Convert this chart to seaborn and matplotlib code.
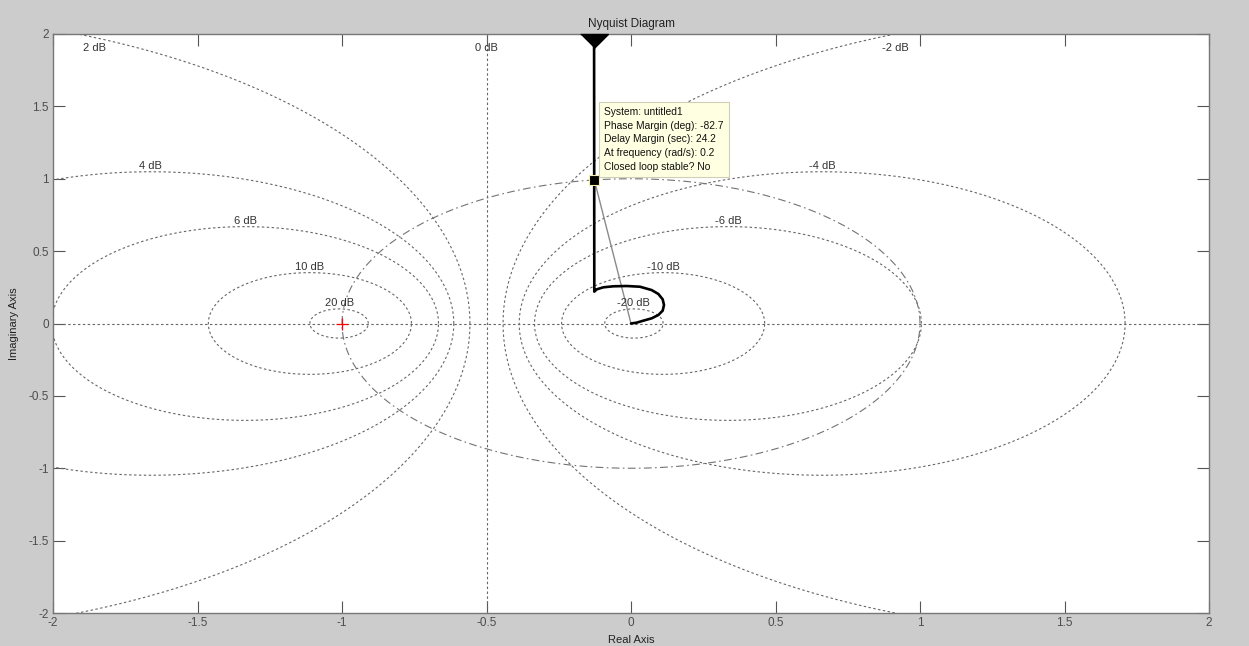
import numpy as np
import matplotlib
matplotlib.use('Agg')
import matplotlib.pyplot as plt
import seaborn as sns

# constant closed-loop magnitude circles (dB)
db_levels = [20, 10, 6, 4, 2, 0, -2, -4, -6, -10, -20]

# open-loop Nyquist curve
nyq_re = [0.0, 0.0196, 0.0427, 0.0715, 0.0946, 0.1096, 0.1142, 0.1096, 0.0946,
          0.0715, 0.0311, -0.015, -0.0612, -0.0957, -0.1188, -0.127, -0.128]
nyq_im = [0.0, 0.0058, 0.0196, 0.0357, 0.0587, 0.0887, 0.128, 0.167, 0.204,
          0.231, 0.254, 0.259, 0.257, 0.25, 0.236, 0.22, 2.6]

# phase margin point and datatip
pm_re = -0.127
pm_im = 0.992
tip_lines = ["System: untitled1",
             "Phase Margin (deg): -82.7",
             "Delay Margin (sec): 24.2",
             "At frequency (rad/s): 0.2",
             "Closed loop stable? No"]

ticks = [-2, -1.5, -1, -0.5, 0, 0.5, 1, 1.5, 2]

sns.set_style("white")
plt.rcParams['font.family'] = ['Liberation Sans', 'DejaVu Sans']
plt.rcParams['axes.unicode_minus'] = False

fig = plt.figure(figsize=(12.49, 6.46), dpi=100, facecolor='#cccccc')
ax = fig.add_axes([53 / 1249, 1 - 613 / 646, 1156 / 1249, 579 / 646])
ax.set_facecolor('white')

grid_kw = dict(color='#666666', lw=0.8, dashes=(2.2, 2.2))
t = np.linspace(0, 2 * np.pi, 721)
for db in db_levels:
    if db == 0:
        ax.axvline(-0.5, **grid_kw)
        lx, ly, va = -0.5, 1.94, 'top'
    else:
        m = 10 ** (db / 20)
        c = -m ** 2 / (m ** 2 - 1)
        r = abs(m / (m ** 2 - 1))
        ax.plot(c + r * np.cos(t), r * np.sin(t), **grid_kw)
        if r < 2:
            lx, ly, va = c, r + 0.005, 'bottom'
        else:
            side = -1 if c > 0 else 1
            lx = c + side * np.sqrt(r ** 2 - 4)
            lx, ly, va = np.clip(lx, -1.855, 1.855), 1.94, 'top'
    ax.text(lx, ly, f"{db} dB", ha='center', va=va, fontsize=8, color='#333333')
ax.axhline(0, **grid_kw)

# unit circle
ax.plot(np.cos(t), np.sin(t), color='#737373', lw=0.8, dashes=(7, 3, 1.5, 3))

# line from origin to the datatip point
ax.plot([0, pm_re], [0, pm_im], color='#8a8a8a', lw=1.0)

# Nyquist curve
sns.lineplot(x=nyq_re, y=nyq_im, sort=False, estimator=None, errorbar=None,
             color='black', lw=1.9, ax=ax)

# direction arrow at the top edge
ax.plot([nyq_re[-1]], [2.0], marker=[(-1, 0), (1, 0), (0, -1)], markersize=20,
        color='black', clip_on=False, zorder=5)

# critical point
ax.plot([-1], [0], marker='+', color='red', markersize=8, mew=0.9)

# datatip marker and box
ax.plot([pm_re], [pm_im], marker='s', markersize=6.5, color='black',
        mec='#f5f0b0', mew=0.8, zorder=6)
ax.annotate("\n".join(tip_lines), xy=(pm_re, pm_im), xytext=(7, 6),
            textcoords='offset points', ha='left', va='bottom', fontsize=7.4,
            linespacing=1.45, color='#111111',
            bbox=dict(boxstyle='square,pad=0.5', fc='#ffffe1', ec='#cfcfb8', lw=0.8),
            zorder=7)

ax.set_xlim(-2, 2)
ax.set_ylim(-2, 2)
ax.set_xticks(ticks)
ax.set_yticks(ticks)
ax.set_xticklabels([f"{v:g}" for v in ticks])
ax.set_yticklabels([f"{v:g}" for v in ticks])
ax.tick_params(direction='in', length=8.6, width=0.8, color='#555555',
               labelsize=8.5, labelcolor='#4d4d4d', top=True, right=True,
               bottom=True, left=True, pad=3)
for s in ax.spines.values():
    s.set_color('#777777')
    s.set_linewidth(1.0)

ax.set_title("Nyquist Diagram", fontsize=8.5, color='#222222', pad=5)
ax.set_xlabel("Real Axis", fontsize=8, color='#222222', labelpad=4)
ax.set_ylabel("Imaginary Axis", fontsize=8, color='#222222', labelpad=7)

fig.savefig("out.png", dpi=100, facecolor=fig.get_facecolor())
